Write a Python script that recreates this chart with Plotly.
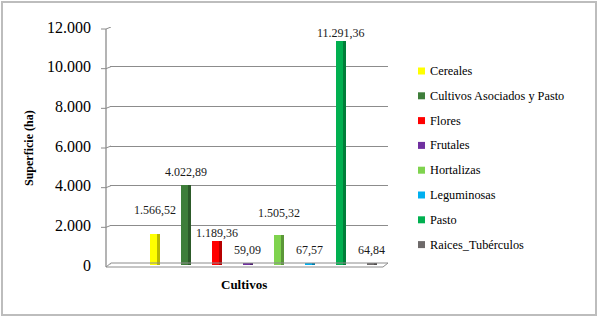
import plotly.graph_objects as go

categories = ["Cereales", "Cultivos Asociados y Pasto", "Flores", "Frutales",
              "Hortalizas", "Leguminosas", "Pasto", "Raices_Tubérculos"]
values = [1566.52, 4022.89, 1189.36, 59.09, 1505.32, 67.57, 11291.36, 64.84]
y_ticks = [0, 2000, 4000, 6000, 8000, 10000, 12000]

colors = ["#FFFF00", "#3E7E3A", "#FF0000", "#7030A0",
          "#7FD34E", "#00B0F0", "#00B050", "#6E6A6A"]
label_shift = [24, 13, 8, 14, 22, 14, 8, 14]

W, H = 598, 318
L, R, T, B = 110, 210, 27, 53
FONT = "Liberation Serif"
GRID = "#8C8C8C"


def darker(hexcol, f=0.72):
    r, g, b = (int(hexcol[k:k + 2], 16) for k in (1, 3, 5))
    return "#%02X%02X%02X" % (int(r * f), int(g * f), int(b * f))


pw, ph = W - L - R, H - T - B
def px(x):
    return (x - L) / pw
def py(y):
    return (H - B - y) / ph
unit_per_px = 12000 / ph

fig = go.Figure()
for i, (c, v, col) in enumerate(zip(categories, values, colors)):
    fig.add_trace(go.Bar(
        x=[i], y=[v], name=c, width=0.3,
        marker=dict(color=col, line=dict(width=0)),
        showlegend=False,
        hovertemplate="%{y:,.2f}<extra>" + c + "</extra>",
    ))
    fig.add_trace(go.Bar(
        x=[i], y=[v], width=0.09, offset=0.06,
        marker=dict(color=darker(col), line=dict(width=0)),
        showlegend=False, hoverinfo="skip",
    ))
    fig.add_annotation(
        x=i, y=v, text=f"{v:,.2f}".replace(",", "X").replace(".", ",").replace("X", "."),
        showarrow=False, yanchor="middle", xanchor="center", yshift=label_shift[i],
        font=dict(family=FONT, size=12, color="#1A1A1A"),
    )

# manual legend
leg_y0, leg_dy = 71, 24.8
for i, (c, col) in enumerate(zip(categories, colors)):
    yc = leg_y0 + i * leg_dy
    fig.add_shape(type="rect", xref="paper", yref="paper",
                  x0=px(418), x1=px(425), y0=py(yc + 3.5), y1=py(yc - 3.5),
                  line=dict(width=0), fillcolor=col)
    fig.add_annotation(xref="paper", yref="paper", x=px(428), y=py(yc),
                       xanchor="left", yanchor="middle", showarrow=False, text=c,
                       font=dict(family=FONT, size=12.3, color="#000000"))

# outer chart border
fig.add_shape(type="rect", xref="paper", yref="paper",
              x0=px(2), x1=px(596), y0=py(315), y1=py(2),
              line=dict(color="#BDBDBD", width=2), fillcolor="rgba(0,0,0,0)")
# 3D floor
fig.add_shape(type="path", xref="paper", yref="paper",
              path=f"M {px(106)} {py(267)} L {px(383)} {py(267)} L {px(388)} {py(263)} L {px(111)} {py(263)} Z",
              line=dict(color=GRID, width=1), fillcolor="rgba(0,0,0,0)")
# axis wall line and ticks with slanted grid joins
fig.add_shape(type="line", xref="paper", yref="paper",
              x0=px(106), x1=px(106), y0=py(267), y1=py(29),
              line=dict(color=GRID, width=1.3))
for t in y_ticks:
    fig.add_shape(type="line", xref="paper", yref="y",
                  x0=px(101), x1=px(106), y0=t - 2 * unit_per_px, y1=t - 2 * unit_per_px,
                  line=dict(color=GRID, width=1))
    fig.add_shape(type="line", xref="paper", yref="y",
                  x0=px(106), x1=px(111), y0=t - 2 * unit_per_px, y1=t,
                  line=dict(color=GRID, width=1))

fig.add_annotation(xref="paper", yref="paper", x=px(29), y=py(148),
                   xanchor="center", yanchor="middle",
                   text="<b>Superficie (ha)</b>", textangle=-90, showarrow=False,
                   font=dict(family=FONT, size=12, color="#000000"))
fig.add_annotation(xref="paper", yref="paper", x=px(244), y=py(284),
                   xanchor="center", yanchor="middle",
                   text="<b>Cultivos</b>", showarrow=False,
                   font=dict(family=FONT, size=13, color="#000000"))

fig.update_layout(
    width=W, height=H,
    margin=dict(l=L, r=R, t=T, b=B, autoexpand=False),
    paper_bgcolor="white", plot_bgcolor="white",
    separators=",.",
    font=dict(family=FONT, color="#000000"),
    bargap=0,
    barmode="overlay",
    showlegend=False,
    xaxis=dict(range=[-1.45, 7.52], showticklabels=False, showgrid=False,
               zeroline=False, showline=False, ticks=""),
    yaxis=dict(range=[0, 12000], tickvals=y_ticks, tickformat=",d",
               showgrid=True, gridcolor=GRID, gridwidth=1,
               showline=False, ticks="", zeroline=False, ticklabelstandoff=18,
               tickfont=dict(family=FONT, size=16, color="#000000")),
)

fig.write_html("out.html", config={"displayModeBar": False},
               post_script="document.body.style.margin='0';document.body.style.overflow='hidden';")
